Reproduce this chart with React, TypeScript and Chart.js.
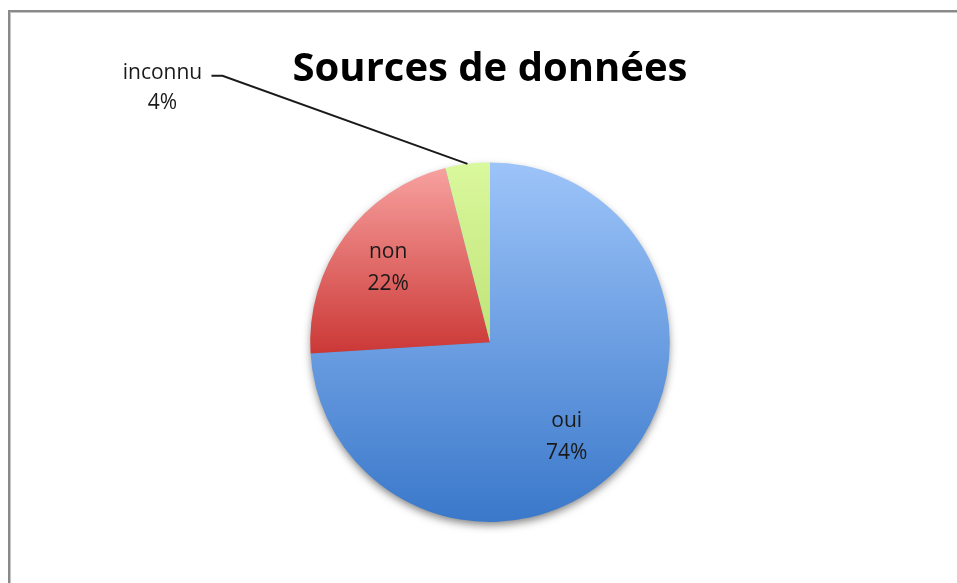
import React, { useEffect, useRef } from "react";
import { Chart, registerables } from "chart.js";

Chart.register(...registerables);

const titleText = "Sources de données";
const categories = ["oui", "non", "inconnu"];
const values = [74, 22, 4];
const percentLabels = ["74%", "22%", "4%"];
const topColors = ["#9dc4f9", "#f7a19f", "#daf89d"];
const bottomColors = ["#3a78ca", "#cb3836", "#bfe377"];

const LABEL_FONT = "21px 'Open Sans', sans-serif";

function sliceGradient(ctx: any) {
  const chart = ctx.chart;
  const area = chart.chartArea;
  const i = ctx.dataIndex ?? 0;
  if (!area) return topColors[i];
  const cx = (area.left + area.right) / 2;
  const cy = (area.top + area.bottom) / 2;
  const r = Math.min(area.right - area.left, area.bottom - area.top) / 2;
  const total = values.reduce((a, b) => a + b, 0);
  let start = 0;
  for (let j = 0; j < i; j++) start += values[j];
  const a0 = (start / total) * Math.PI * 2;
  const a1 = ((start + values[i]) / total) * Math.PI * 2;
  const ys = [cy, cy - r * Math.cos(a0), cy - r * Math.cos(a1)];
  if (a0 <= 0 && a1 >= 0) ys.push(cy - r);
  if (a0 <= Math.PI && a1 >= Math.PI) ys.push(cy + r);
  if (a1 >= Math.PI * 2) ys.push(cy - r);
  const yTop = Math.min(...ys);
  const yBot = Math.max(...ys);
  const g = chart.ctx.createLinearGradient(0, yTop, 0, yBot);
  g.addColorStop(0, topColors[i]);
  g.addColorStop(1, bottomColors[i]);
  return g;
}

const shadowPlugin = {
  id: "pieShadow",
  beforeDatasetsDraw(chart: any) {
    const meta = chart.getDatasetMeta(0);
    const el = meta.data[0];
    if (!el) return;
    const { x, y, outerRadius } = el.getProps(["x", "y", "outerRadius"], true);
    const ctx = chart.ctx;
    ctx.save();
    ctx.shadowColor = "rgba(0,0,0,0.5)";
    ctx.shadowBlur = 9;
    ctx.shadowOffsetX = 0;
    ctx.shadowOffsetY = 4;
    ctx.fillStyle = "#5d8fd6";
    ctx.beginPath();
    ctx.arc(x, y, outerRadius - 1, 0, Math.PI * 2);
    ctx.fill();
    ctx.restore();
  },
};

const labelPlugin = {
  id: "sliceLabels",
  afterDatasetsDraw(chart: any) {
    const meta = chart.getDatasetMeta(0);
    const ctx = chart.ctx;
    ctx.save();
    ctx.font = LABEL_FONT;
    ctx.fillStyle = "#1a1a1a";
    ctx.textAlign = "center";
    ctx.textBaseline = "middle";
    meta.data.forEach((el: any, i: number) => {
      const { x, y, startAngle, endAngle, outerRadius } = el.getProps(
        ["x", "y", "startAngle", "endAngle", "outerRadius"],
        true
      );
      const mid = (startAngle + endAngle) / 2;
      if (i === 2) {
        const ex = x + Math.cos(mid) * outerRadius;
        const ey = y + Math.sin(mid) * outerRadius;
        ctx.strokeStyle = "#1a1a1a";
        ctx.lineWidth = 2;
        ctx.beginPath();
        ctx.moveTo(ex, ey);
        ctx.lineTo(ex - 245, ey - 88);
        ctx.lineTo(ex - 256, ey - 88);
        ctx.stroke();
        const lx = ex - 305;
        const ly = ey - 76;
        ctx.fillText(categories[i], lx, ly - 15);
        ctx.fillText(percentLabels[i], lx, ly + 15);
      } else {
        let lx = x + Math.cos(mid) * outerRadius * 0.7;
        let ly = y + Math.sin(mid) * outerRadius * 0.7;
        if (i === 0) {
          lx -= 15;
          ly += 9;
        }
        ctx.fillText(categories[i], lx, ly - 16);
        ctx.fillText(percentLabels[i], lx, ly + 16);
      }
    });
    ctx.restore();
  },
};

export default function App() {
  const canvasRef = useRef<HTMLCanvasElement | null>(null);

  useEffect(() => {
    if (!canvasRef.current) return;
    const chart = new Chart(canvasRef.current, {
      type: "pie",
      data: {
        labels: categories,
        datasets: [
          {
            data: values,
            backgroundColor: sliceGradient as any,
            borderWidth: 0,
          },
        ],
      },
      options: {
        responsive: false,
        animation: false,
        layout: { padding: { left: 23, right: 0, top: 0, bottom: 61 } },
        plugins: {
          legend: { display: false },
          tooltip: { enabled: false },
          title: {
            display: true,
            text: titleText,
            color: "#000",
            font: { family: "'Open Sans', sans-serif", size: 40, weight: "bold" },
            padding: { top: 46, bottom: 68.4 },
          },
        },
      },
      plugins: [shadowPlugin, labelPlugin],
    });
    return () => chart.destroy();
  }, []);

  return (
    <div
      style={{
        position: "fixed",
        left: 0,
        top: 0,
        width: 957,
        height: 583,
        background: "#fff",
        overflow: "hidden",
      }}
    >
      <div
        style={{
          position: "absolute",
          left: 8,
          top: 10,
          width: 1000,
          height: 700,
          borderTop: "2px solid #8a8a8a",
          borderLeft: "2px solid #8a8a8a",
          boxShadow: "inset 1px 1px 0 #c4c4c4",
        }}
      />
      <canvas
        ref={canvasRef}
        width={957}
        height={583}
        style={{ position: "absolute", left: 0, top: 0, display: "block" }}
      />
    </div>
  );
}
